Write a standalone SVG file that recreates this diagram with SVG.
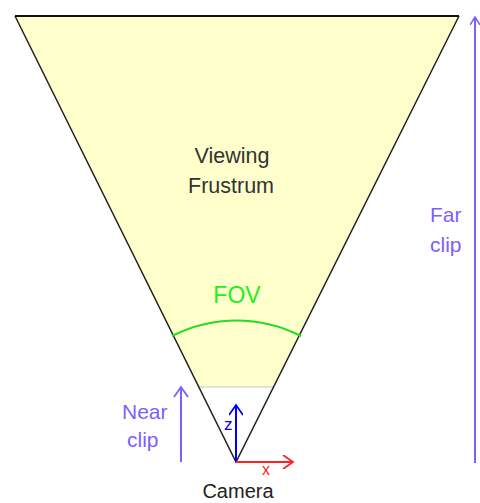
<svg xmlns="http://www.w3.org/2000/svg" width="480" height="503" viewBox="0 0 480 503">
<style>
.lbl{font-family:"Liberation Sans",Arial,sans-serif;}
.purple{fill:#7d5fff;font-size:21px;}
.edge{stroke:#222;stroke-width:1.5;fill:none;}
</style>
<defs>
<marker id="ap" markerWidth="10" markerHeight="10" refX="8" refY="5" orient="auto" markerUnits="userSpaceOnUse" viewBox="0 0 10 10"><path d="M0,0 L8,5 L0,10" fill="none" stroke="#7d5fff" stroke-width="1.5"/></marker>
<marker id="ab" markerWidth="14" markerHeight="14" refX="12" refY="7" orient="auto" markerUnits="userSpaceOnUse" viewBox="0 0 14 14"><path d="M2,0 L12,7 L2,14" fill="none" stroke="#0000ff" stroke-width="1.8"/></marker>
<marker id="ar" markerWidth="14" markerHeight="14" refX="12" refY="7" orient="auto" markerUnits="userSpaceOnUse" viewBox="0 0 14 14"><path d="M2,0 L12,7 L2,14" fill="none" stroke="#ff2020" stroke-width="1.8"/></marker>
<marker id="ap2" markerWidth="16" markerHeight="16" refX="14" refY="8" orient="auto" markerUnits="userSpaceOnUse" viewBox="0 0 16 16"><path d="M4,1 L14,8 L4,15" fill="none" stroke="#7d5fff" stroke-width="1.8"/></marker>
</defs>
<rect width="480" height="503" fill="#ffffff"/>
<g id="frustum">
<polygon points="15,16 459,16 273.5,387 198.8,387" fill="#ffffcc"/>
<line x1="198.8" y1="387" x2="273.5" y2="387" stroke="#c8c8c8" stroke-width="1"/>
<path class="edge" d="M15,16 L236,462 L459,16"/>
<line x1="15" y1="16" x2="459" y2="16" stroke="#111" stroke-width="2"/>
</g>
<g id="fov">
<path d="M172,336 A141,141 0 0 1 301,336" fill="none" stroke="#22dd22" stroke-width="2"/>
<text class="lbl" x="237" y="303" text-anchor="middle" font-size="23" fill="#22ee22">FOV</text>
</g>
<g id="label-frustum">
<text class="lbl" x="232" y="163" text-anchor="middle" font-size="21.5" fill="#333333">Viewing</text>
<text class="lbl" x="231" y="193" text-anchor="middle" font-size="21.5" fill="#333333">Frustrum</text>
</g>
<g id="connectors">
<line x1="475" y1="463" x2="475" y2="17" stroke="#7d5fff" stroke-width="2" marker-end="url(#ap)"/>
<line x1="181" y1="462" x2="181" y2="387" stroke="#7d5fff" stroke-width="2" marker-end="url(#ap2)"/>
<line x1="236" y1="462" x2="236" y2="405" stroke="#0000ff" stroke-width="2" marker-end="url(#ab)"/>
<line x1="236" y1="462" x2="293" y2="462" stroke="#ff2020" stroke-width="2" marker-end="url(#ar)"/>
</g>
<g id="label-far">
<text class="lbl purple" x="430" y="222">Far</text>
<text class="lbl purple" x="430" y="252">clip</text>
</g>
<g id="label-near">
<text class="lbl purple" x="122" y="419">Near</text>
<text class="lbl purple" x="127" y="447">clip</text>
</g>
<g id="axes-labels">
<text class="lbl" x="224" y="430" font-size="17" fill="#0000ff">z</text>
<text class="lbl" x="262" y="475" font-size="16" fill="#ff2020">x</text>
</g>
<g id="camera">
<text class="lbl" x="238" y="498" text-anchor="middle" font-size="20" fill="#222222">Camera</text>
</g>
</svg>
